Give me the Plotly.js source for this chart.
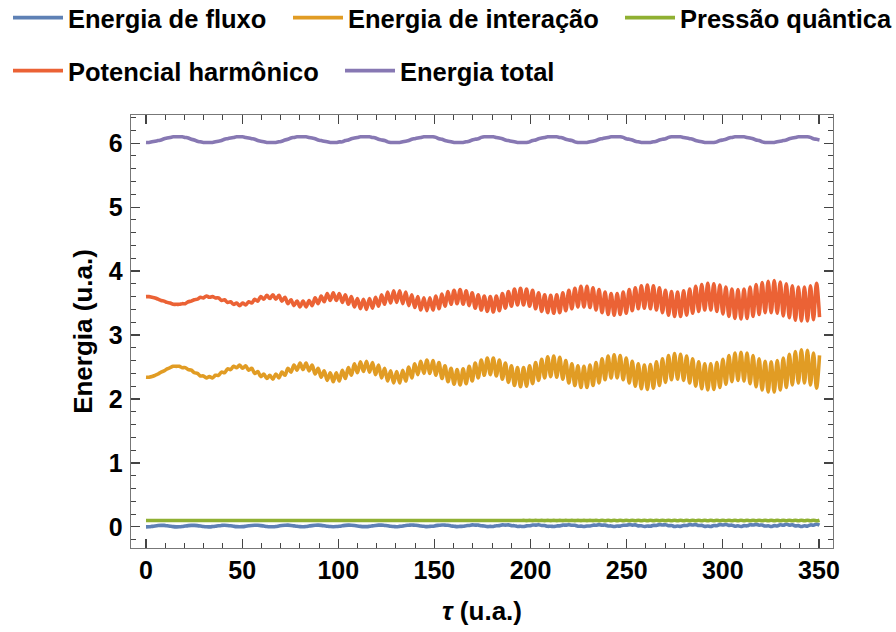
<!DOCTYPE html>
<html>
<head>
<meta charset="utf-8">
<script src="https://cdn.plot.ly/plotly-3.0.1.min.js"></script>
<style>html,body{margin:0;padding:0;background:#fff}</style>
</head>
<body>
<div id="chart" style="width:896px;height:632px"></div>
<script>
// Energy components sampled every half period of the fast (2ω) mode, τ = k·π/2
const tauStep = Math.PI / 2;

const energiaFluxo = [
  0.000,0.002,0.008,0.015,0.021,0.024,0.023,0.017,0.010,0.004,
  0.001,0.002,0.007,0.014,0.020,0.024,0.024,0.020,0.014,0.007,
  0.002,0.001,0.005,0.011,0.018,0.023,0.025,0.022,0.017,0.010,
  0.004,0.002,0.004,0.010,0.017,0.023,0.026,0.025,0.020,0.013,
  0.006,0.002,0.003,0.007,0.014,0.021,0.025,0.027,0.023,0.016,
  0.009,0.004,0.003,0.006,0.013,0.020,0.025,0.027,0.024,0.018,
  0.011,0.005,0.003,0.005,0.010,0.017,0.024,0.027,0.026,0.021,
  0.014,0.008,0.004,0.004,0.009,0.016,0.023,0.027,0.028,0.023,
  0.018,0.009,0.006,0.003,0.008,0.014,0.023,0.026,0.030,0.026,
  0.022,0.013,0.009,0.004,0.008,0.011,0.020,0.025,0.030,0.027,
  0.025,0.015,0.011,0.004,0.008,0.009,0.019,0.023,0.031,0.028,
  0.028,0.018,0.014,0.005,0.008,0.007,0.017,0.020,0.031,0.028,
  0.031,0.020,0.018,0.007,0.009,0.006,0.016,0.018,0.029,0.028,
  0.033,0.023,0.021,0.009,0.011,0.005,0.015,0.016,0.028,0.028,
  0.034,0.025,0.025,0.011,0.012,0.005,0.014,0.014,0.027,0.027,
  0.035,0.027,0.028,0.014,0.015,0.005,0.013,0.012,0.026,0.025,
  0.036,0.028,0.031,0.016,0.018,0.006,0.014,0.010,0.024,0.023,
  0.036,0.029,0.034,0.019,0.021,0.007,0.014,0.008,0.023,0.021,
  0.036,0.029,0.036,0.021,0.024,0.008,0.015,0.006,0.021,0.019,
  0.035,0.029,0.038,0.024,0.027,0.011,0.017,0.006,0.020,0.017,
  0.034,0.029,0.040,0.027,0.030,0.013,0.018,0.006,0.020,0.015,
  0.033,0.027,0.041,0.028,0.034,0.016,0.020,0.006,0.019,0.012,
  0.031,0.026,0.042,0.029
];

const energiaInteracao = [
  2.34,2.34,2.35,2.37,2.39,2.42,2.44,2.47,2.49,2.51,
  2.51,2.51,2.49,2.49,2.46,2.45,2.41,2.40,2.36,2.36,
  2.33,2.35,2.33,2.37,2.37,2.42,2.41,2.47,2.46,2.51,
  2.49,2.53,2.48,2.52,2.45,2.48,2.40,2.43,2.35,2.39,
  2.32,2.37,2.31,2.39,2.33,2.42,2.37,2.48,2.42,2.53,
  2.45,2.56,2.46,2.56,2.44,2.53,2.39,2.48,2.34,2.44,
  2.29,2.41,2.27,2.41,2.28,2.45,2.32,2.49,2.37,2.55,
  2.41,2.58,2.43,2.59,2.42,2.57,2.38,2.53,2.33,2.48,
  2.28,2.44,2.25,2.43,2.25,2.45,2.28,2.50,2.33,2.55,
  2.38,2.59,2.40,2.61,2.40,2.60,2.37,2.57,2.32,2.52,
  2.27,2.48,2.23,2.46,2.22,2.47,2.24,2.51,2.28,2.56,
  2.33,2.61,2.37,2.64,2.38,2.64,2.36,2.61,2.31,2.56,
  2.26,2.52,2.21,2.49,2.19,2.49,2.20,2.52,2.24,2.57,
  2.29,2.62,2.33,2.66,2.35,2.67,2.34,2.65,2.31,2.60,
  2.25,2.55,2.21,2.52,2.18,2.51,2.18,2.53,2.21,2.57,
  2.25,2.63,2.30,2.67,2.33,2.69,2.33,2.68,2.30,2.64,
  2.25,2.59,2.20,2.55,2.16,2.53,2.15,2.54,2.17,2.58,
  2.21,2.63,2.26,2.68,2.30,2.71,2.31,2.70,2.29,2.67,
  2.25,2.63,2.20,2.58,2.16,2.55,2.14,2.55,2.15,2.57,
  2.18,2.62,2.23,2.68,2.27,2.72,2.29,2.73,2.28,2.72,
  2.24,2.68,2.19,2.63,2.14,2.59,2.11,2.58,2.11,2.60,
  2.14,2.64,2.18,2.70,2.22,2.74,2.25,2.77,2.25,2.76,
  2.22,2.72,2.17,2.68
];

const pressaoQuantica = [
  0.1,0.1,0.1,0.1,0.1,0.1,0.1,0.1,0.1,0.1,0.1,0.1,0.1,0.1,0.1,0.1,0.1,0.1,0.1,0.1,
  0.1,0.1,0.1,0.1,0.1,0.1,0.1,0.1,0.1,0.1,0.1,0.1,0.1,0.1,0.1,0.1,0.1,0.1,0.1,0.1,
  0.1,0.1,0.1,0.1,0.1,0.1,0.1,0.1,0.1,0.1,0.1,0.1,0.1,0.1,0.1,0.1,0.1,0.1,0.1,0.1,
  0.1,0.1,0.1,0.1,0.1,0.1,0.1,0.1,0.1,0.1,0.1,0.1,0.1,0.1,0.1,0.1,0.1,0.1,0.1,0.1,
  0.1,0.1,0.1,0.1,0.1,0.1,0.1,0.1,0.1,0.1,0.1,0.1,0.1,0.1,0.1,0.1,0.1,0.1,0.1,0.1,
  0.099,0.101,0.099,0.101,0.099,0.101,0.099,0.101,0.099,0.101,
  0.099,0.101,0.099,0.101,0.099,0.101,0.099,0.101,0.099,0.101,
  0.099,0.101,0.099,0.101,0.099,0.102,0.098,0.102,0.098,0.102,
  0.098,0.102,0.098,0.102,0.098,0.102,0.098,0.102,0.098,0.102,
  0.098,0.102,0.098,0.102,0.098,0.102,0.098,0.102,0.098,0.102,
  0.097,0.103,0.097,0.103,0.097,0.103,0.097,0.103,0.097,0.103,
  0.097,0.103,0.097,0.103,0.097,0.103,0.097,0.103,0.097,0.103,
  0.097,0.103,0.097,0.103,0.097,0.104,0.096,0.104,0.096,0.104,
  0.096,0.104,0.096,0.104,0.096,0.104,0.096,0.104,0.096,0.104,
  0.096,0.104,0.096,0.104,0.096,0.104,0.096,0.104,0.096,0.104,
  0.095,0.105,0.095,0.105,0.095,0.105,0.095,0.105,0.095,0.105,
  0.095,0.105,0.095,0.105,0.095,0.105,0.095,0.105,0.095,0.105,
  0.095,0.105,0.095,0.105
];

const potencialHarmonico = [
  3.60,3.60,3.59,3.58,3.56,3.54,3.53,3.51,3.50,3.48,
  3.48,3.48,3.49,3.49,3.52,3.53,3.55,3.56,3.59,3.58,
  3.61,3.59,3.60,3.58,3.58,3.54,3.55,3.51,3.52,3.48,
  3.50,3.46,3.50,3.47,3.52,3.50,3.56,3.53,3.60,3.56,
  3.62,3.57,3.63,3.56,3.62,3.53,3.59,3.49,3.55,3.46,
  3.53,3.44,3.53,3.44,3.54,3.46,3.58,3.49,3.61,3.52,
  3.65,3.54,3.66,3.54,3.65,3.51,3.63,3.48,3.60,3.44,
  3.57,3.41,3.56,3.40,3.57,3.42,3.59,3.45,3.63,3.48,
  3.67,3.50,3.69,3.51,3.69,3.49,3.67,3.46,3.63,3.43,
  3.60,3.39,3.58,3.38,3.58,3.39,3.61,3.41,3.64,3.45,
  3.68,3.48,3.70,3.49,3.71,3.48,3.69,3.46,3.66,3.42,
  3.63,3.39,3.61,3.37,3.60,3.36,3.61,3.38,3.65,3.42,
  3.68,3.45,3.72,3.47,3.73,3.47,3.72,3.45,3.70,3.41,
  3.66,3.37,3.63,3.35,3.62,3.34,3.63,3.35,3.66,3.38,
  3.70,3.41,3.73,3.44,3.76,3.44,3.76,3.43,3.74,3.39,
  3.71,3.35,3.67,3.32,3.65,3.31,3.65,3.32,3.67,3.34,
  3.71,3.38,3.74,3.41,3.77,3.42,3.78,3.41,3.77,3.39,
  3.74,3.35,3.70,3.31,3.68,3.29,3.67,3.29,3.69,3.31,
  3.72,3.34,3.76,3.37,3.79,3.39,3.81,3.39,3.80,3.37,
  3.78,3.33,3.75,3.29,3.72,3.26,3.71,3.25,3.72,3.26,
  3.75,3.29,3.79,3.32,3.82,3.35,3.84,3.35,3.85,3.34,
  3.83,3.30,3.80,3.27,3.77,3.23,3.75,3.22,3.75,3.22,
  3.77,3.24,3.81,3.28
];

const energiaTotal = [
  6.01,6.01,6.02,6.03,6.04,6.05,6.07,6.08,6.09,6.10,
  6.10,6.10,6.10,6.09,6.08,6.06,6.05,6.03,6.02,6.01,
  6.01,6.01,6.01,6.02,6.03,6.04,6.06,6.07,6.08,6.09,
  6.10,6.10,6.10,6.09,6.08,6.07,6.06,6.04,6.03,6.02,
  6.01,6.01,6.01,6.01,6.02,6.03,6.05,6.06,6.08,6.09,
  6.10,6.10,6.10,6.10,6.09,6.08,6.07,6.05,6.04,6.03,
  6.02,6.01,6.01,6.01,6.02,6.02,6.04,6.05,6.07,6.08,
  6.09,6.10,6.10,6.10,6.10,6.09,6.08,6.06,6.05,6.04,
  6.02,6.01,6.01,6.01,6.01,6.02,6.03,6.04,6.06,6.07,
  6.08,6.09,6.10,6.10,6.10,6.10,6.09,6.07,6.06,6.04,
  6.03,6.02,6.01,6.01,6.01,6.01,6.02,6.03,6.05,6.06,
  6.07,6.09,6.10,6.10,6.10,6.10,6.09,6.08,6.07,6.05,
  6.04,6.03,6.02,6.01,6.01,6.01,6.01,6.02,6.04,6.05,
  6.07,6.08,6.09,6.10,6.10,6.10,6.10,6.09,6.08,6.06,
  6.05,6.04,6.02,6.01,6.01,6.01,6.01,6.02,6.03,6.04,
  6.06,6.07,6.08,6.09,6.10,6.10,6.10,6.10,6.09,6.07,
  6.06,6.05,6.03,6.02,6.01,6.01,6.01,6.01,6.02,6.03,
  6.05,6.06,6.07,6.09,6.10,6.10,6.10,6.10,6.09,6.08,
  6.07,6.06,6.04,6.03,6.02,6.01,6.01,6.01,6.01,6.02,
  6.04,6.05,6.06,6.08,6.09,6.10,6.10,6.10,6.10,6.09,
  6.08,6.07,6.05,6.04,6.02,6.01,6.01,6.01,6.01,6.02,
  6.03,6.04,6.05,6.07,6.08,6.09,6.10,6.10,6.10,6.10,
  6.09,6.07,6.06,6.05
];

const seriesNames = ['Energia de fluxo', 'Energia de interação', 'Pressão quântica',
                     'Potencial harmônico', 'Energia total'];
const seriesColors = ['#5E81B5', '#E19C24', '#8FB032', '#EB6235', '#8778B3'];
const seriesData = [energiaFluxo, energiaInteracao, pressaoQuantica, potencialHarmonico, energiaTotal];
const legendIds = ['legend', 'legend2', 'legend3', 'legend4', 'legend5'];

const tau = energiaTotal.map((_, k) => k * tauStep);

const traces = seriesData.map((vals, i) => ({
  type: 'scatter',
  mode: 'lines',
  x: tau,
  y: vals,
  name: seriesNames[i],
  legend: legendIds[i],
  line: {color: seriesColors[i], width: 3.6, shape: 'spline', smoothing: 1},
  hoverinfo: 'skip'
}));

// plot frame in pixels: x 131..833, y 115..548
const frame = {l: 131, r: 833, t: 115, b: 548};
const px = v => (v - frame.l) / (frame.r - frame.l);
const py = v => (frame.b - v) / (frame.b - frame.t);

const baseFont = 'Liberation Sans, Arial, Helvetica, sans-serif';
const legendFont = {family: baseFont, size: 25.5, color: '#000', weight: 'bold'};
// left edge of each legend box and vertical centre of its row
const legendSpot = [[8, 18], [288, 18], [620, 18], [8, 71], [340, 71]];

const layout = {
  width: 896,
  height: 632,
  margin: {l: frame.l, r: 896 - frame.r, t: frame.t, b: 632 - frame.b, pad: 0, autoexpand: false},
  paper_bgcolor: '#ffffff',
  plot_bgcolor: '#ffffff',
  font: {family: baseFont, color: '#000'},
  showlegend: true,
  xaxis: {
    range: [-7.8, 357.3],
    tick0: 0, dtick: 50,
    ticks: 'inside', ticklen: 9, tickwidth: 1.2, tickcolor: '#444',
    minor: {dtick: 10, ticks: 'inside', ticklen: 5, tickwidth: 1, tickcolor: '#444', showgrid: false},
    showline: true, linecolor: '#777', linewidth: 1.3, mirror: 'ticks',
    showgrid: false, zeroline: false,
    tickfont: {family: baseFont, size: 25, color: '#000', weight: 'bold'},
    ticklabelstandoff: 0,
    title: {text: '<i>τ</i> (u.a.)', font: {family: baseFont, size: 26, color: '#000', weight: 'bold'}, standoff: 18},
    automargin: false
  },
  yaxis: {
    range: [-0.33, 6.44],
    tick0: 0, dtick: 1,
    ticks: 'inside', ticklen: 9, tickwidth: 1.2, tickcolor: '#444',
    minor: {dtick: 0.2, ticks: 'inside', ticklen: 5, tickwidth: 1, tickcolor: '#444', showgrid: false},
    showline: true, linecolor: '#777', linewidth: 1.3, mirror: 'ticks',
    showgrid: false, zeroline: false,
    tickfont: {family: baseFont, size: 25, color: '#000', weight: 'bold'},
    ticklabelstandoff: 2,
    title: {text: 'Energia (u.a.)', font: {family: baseFont, size: 26, color: '#000', weight: 'bold'}, standoff: 8},
    automargin: false
  }
};

legendIds.forEach((id, i) => {
  layout[id] = {
    x: px(legendSpot[i][0]), y: py(legendSpot[i][1]),
    xanchor: 'left', yanchor: 'middle',
    orientation: 'h',
    font: legendFont,
    bgcolor: 'rgba(0,0,0,0)',
    borderwidth: 0,
    itemwidth: 50
  };
});

Plotly.newPlot('chart', traces, layout, {staticPlot: true, displayModeBar: false});
</script>
</body>
</html>
